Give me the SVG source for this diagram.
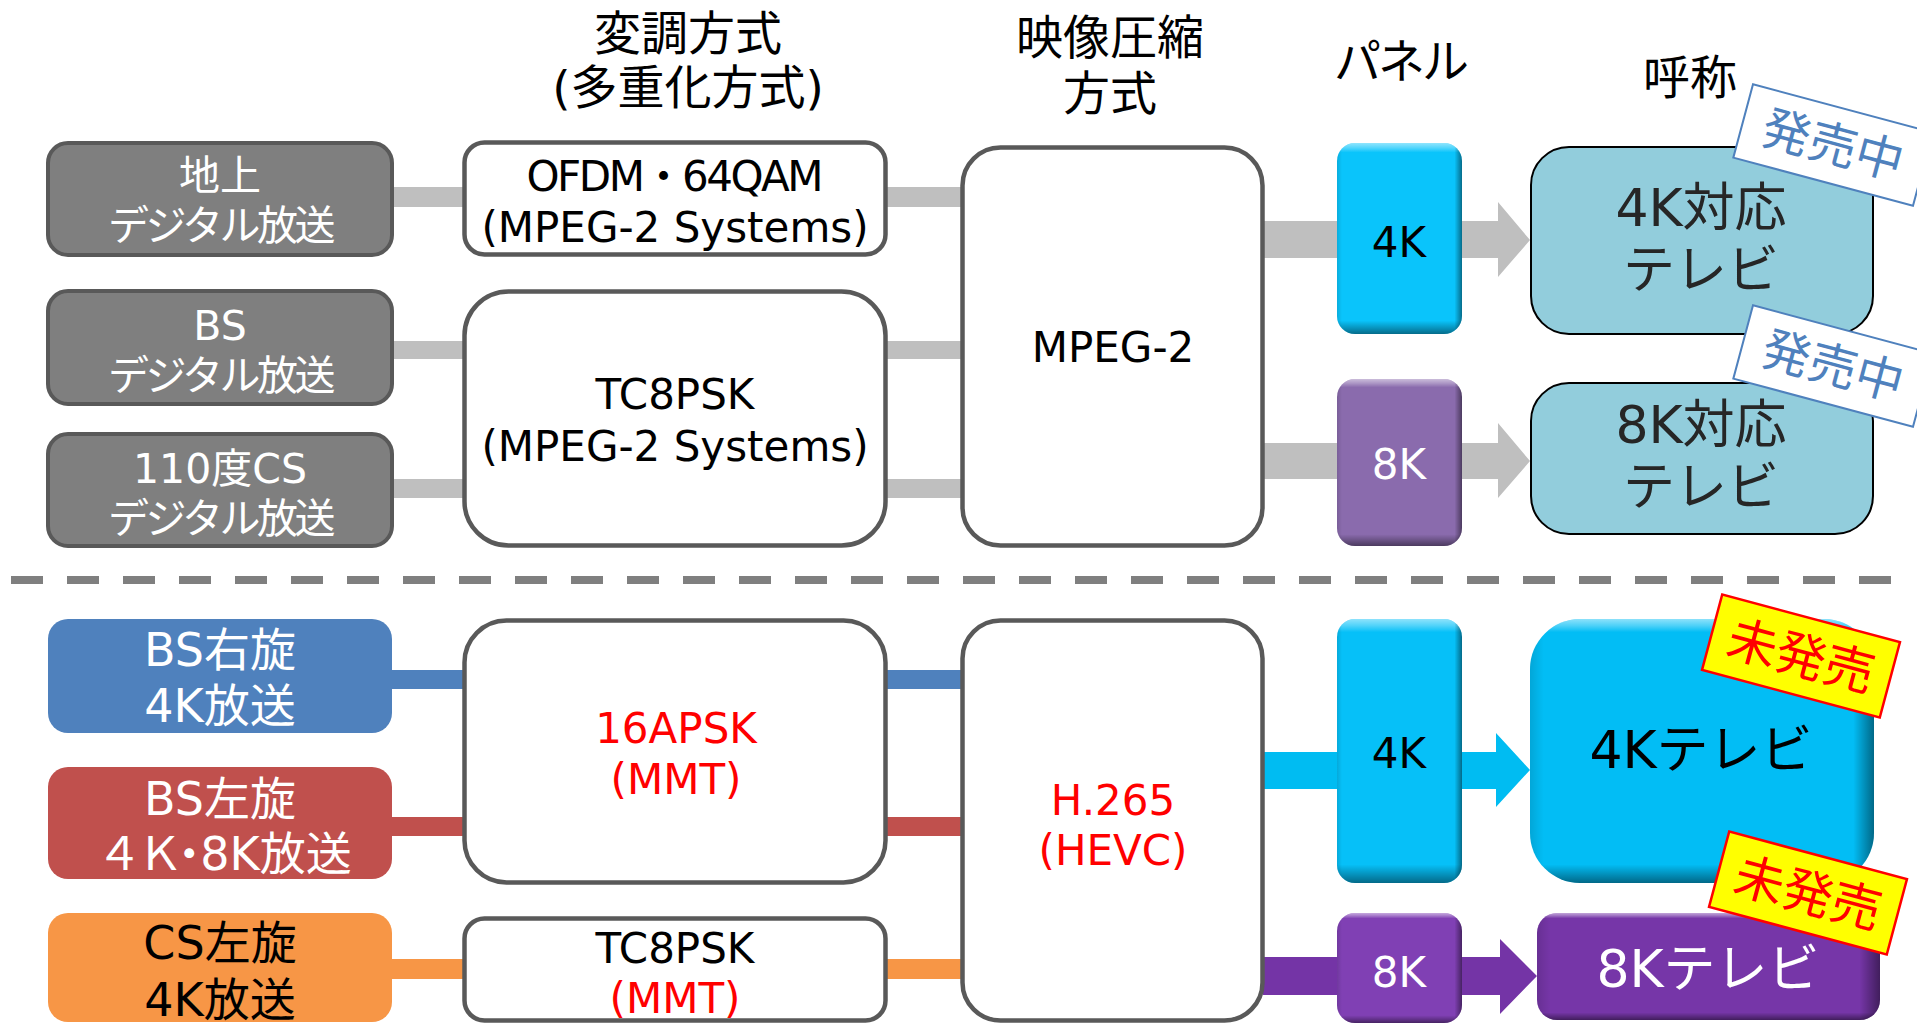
<svg xmlns="http://www.w3.org/2000/svg" width="1917" height="1024" viewBox="0 0 1917 1024">
<defs>
<style>
.t{font-family:"DejaVu Sans","Noto Sans CJK JP",sans-serif;text-anchor:middle}
.hdr{font-size:47px;fill:#000}
.src{font-size:41px;fill:#fff}
.kana{letter-spacing:-3.5px}
.src2{font-size:46px}
.mod{font-size:42px;fill:#000}
.red{fill:#ff0000}
.tv{font-size:52px}
.gbox{fill:#7f7f7f;stroke:#595959;stroke-width:4}
.wbox{fill:#fff;stroke:#595959;stroke-width:4.5}
.tvbox{fill:#92cddc;stroke:#000;stroke-width:2}
.gline{fill:#bfbfbf}
.tag1 rect{fill:#fff;stroke:#4f81bd;stroke-width:2}
.tag1 text{fill:#4f81bd;font-size:48px}
.tag2 rect{fill:#ffff00;stroke:#ff0000;stroke-width:2.5}
.tag2 text{fill:#ff0000;font-size:50px}
</style>
<linearGradient id="bevV" x1="0" y1="0" x2="0" y2="1">
<stop offset="0" stop-color="#fff" stop-opacity="0.55"/>
<stop offset="0.025" stop-color="#fff" stop-opacity="0.3"/>
<stop offset="0.05" stop-color="#fff" stop-opacity="0"/>
<stop offset="0.93" stop-color="#000" stop-opacity="0"/>
<stop offset="1" stop-color="#000" stop-opacity="0.45"/>
</linearGradient>
<linearGradient id="bevH" x1="0" y1="0" x2="1" y2="0">
<stop offset="0" stop-color="#000" stop-opacity="0.12"/>
<stop offset="0.04" stop-color="#000" stop-opacity="0"/>
<stop offset="0.94" stop-color="#000" stop-opacity="0"/>
<stop offset="1" stop-color="#000" stop-opacity="0.45"/>
</linearGradient>
</defs>
<rect width="1917" height="1024" fill="#fff"/>

<g id="headers">
<text class="t hdr" x="688" y="50">変調方式</text>
<text class="t hdr" x="688" y="104">(多重化方式)</text>
<text class="t hdr" x="1110" y="54">映像圧縮</text>
<text class="t hdr" x="1110" y="110">方式</text>
<text class="t hdr" x="1400" y="78" letter-spacing="-3">パネル</text>
<text class="t hdr" x="1690" y="94">呼称</text>
</g>

<g id="separator">
<line x1="11" y1="580" x2="1891" y2="580" stroke="#7f7f7f" stroke-width="8" stroke-dasharray="32 24"/>
</g>

<g id="connectors">
<rect class="gline" x="392" y="187" width="72" height="20"/>
<rect class="gline" x="392" y="341" width="72" height="18"/>
<rect class="gline" x="392" y="479" width="72" height="19"/>
<rect class="gline" x="886" y="187" width="76" height="20"/>
<rect class="gline" x="886" y="341" width="76" height="18"/>
<rect class="gline" x="886" y="479" width="76" height="19"/>
<polygon fill="#bfbfbf" points="1263,221 1498,221 1498,202 1530,240 1498,277 1498,258 1263,258"/>
<polygon fill="#bfbfbf" points="1263,443 1498,443 1498,423 1530,461 1498,498 1498,479 1263,479"/>
<rect fill="#4f81bd" x="392" y="670" width="72" height="19"/>
<rect fill="#4f81bd" x="886" y="670" width="76" height="19"/>
<rect fill="#c0504d" x="392" y="817" width="72" height="19"/>
<rect fill="#c0504d" x="886" y="817" width="76" height="19"/>
<rect fill="#f79646" x="392" y="959" width="72" height="20"/>
<rect fill="#f79646" x="886" y="959" width="76" height="20"/>
<polygon fill="#00bcf2" points="1263,752 1496,752 1496,733 1530,770 1496,807 1496,789 1263,789"/>
<polygon fill="#7434a6" points="1263,957 1500,957 1500,939 1537,976 1500,1014 1500,995 1263,995"/>
</g>

<g id="src-terrestrial">
<rect class="gbox" x="48" y="143" width="344" height="112" rx="20"/>
<text class="t src" x="220" y="190">地上</text>
<text class="t src kana" x="220" y="240">デジタル放送</text>
</g>
<g id="src-bs">
<rect class="gbox" x="48" y="291" width="344" height="113" rx="20"/>
<text class="t src" x="220" y="340">BS</text>
<text class="t src kana" x="220" y="390">デジタル放送</text>
</g>
<g id="src-cs110">
<rect class="gbox" x="48" y="434" width="344" height="112" rx="20"/>
<text class="t src" x="220" y="483">110度CS</text>
<text class="t src kana" x="220" y="533">デジタル放送</text>
</g>

<g id="mod-ofdm">
<rect class="wbox" x="464.5" y="142.5" width="421" height="112" rx="20"/>
<text class="t mod" x="675" y="191" textLength="297" lengthAdjust="spacing">OFDM・64QAM</text>
<text class="t mod" x="675" y="242">(MPEG-2 Systems)</text>
</g>
<g id="mod-tc8psk">
<rect class="wbox" x="464.5" y="291.5" width="421" height="254" rx="44"/>
<text class="t mod" x="675" y="409">TC8PSK</text>
<text class="t mod" x="675" y="461">(MPEG-2 Systems)</text>
</g>
<g id="codec-mpeg2">
<rect class="wbox" x="962.5" y="147.5" width="300" height="398" rx="38"/>
<text class="t mod" x="1113" y="362">MPEG-2</text>
</g>

<g id="panel-4k-top">
<rect x="1337" y="143" width="125" height="191" rx="18" fill="#0ac4fb"/>
<rect x="1337" y="143" width="125" height="191" rx="18" fill="url(#bevV)"/>
<rect x="1337" y="143" width="125" height="191" rx="18" fill="url(#bevH)"/>
<text class="t mod" x="1399" y="257">4K</text>
</g>
<g id="panel-8k-top">
<rect x="1337" y="379" width="125" height="167" rx="18" fill="#8a6bad"/>
<rect x="1337" y="379" width="125" height="167" rx="18" fill="url(#bevV)"/>
<rect x="1337" y="379" width="125" height="167" rx="18" fill="url(#bevH)"/>
<text class="t mod" x="1399" y="479" style="fill:#fff">8K</text>
</g>

<g id="tv-4k-compatible">
<rect class="tvbox" x="1531" y="147" width="342" height="187" rx="38"/>
<text class="t tv" x="1701" y="226" fill="#262626">4K対応</text>
<text class="t tv" x="1701" y="288" fill="#262626">テレビ</text>
</g>
<g id="tv-8k-compatible">
<rect class="tvbox" x="1531" y="383" width="342" height="151" rx="38"/>
<text class="t tv" x="1701" y="443" fill="#262626">8K対応</text>
<text class="t tv" x="1701" y="505" fill="#262626">テレビ</text>
</g>

<g id="tag-onsale-1" class="tag1" transform="translate(1833,145) rotate(15)">
<rect x="-93" y="-38" width="186" height="76"/>
<text class="t" x="0" y="17">発売中</text>
</g>
<g id="tag-onsale-2" class="tag1" transform="translate(1833,366) rotate(15)">
<rect x="-93" y="-38" width="186" height="76"/>
<text class="t" x="0" y="17">発売中</text>
</g>

<g id="src-bs-right">
<rect x="48" y="619" width="344" height="114" rx="20" fill="#4f81bd"/>
<text class="t src2" x="220" y="666" fill="#fff">BS右旋</text>
<text class="t src2" x="220" y="722" fill="#fff">4K放送</text>
</g>
<g id="src-bs-left">
<rect x="48" y="767" width="344" height="112" rx="20" fill="#c0504d"/>
<text class="t src2" x="220" y="815" fill="#fff">BS左旋</text>
<text class="t src2" x="224" y="870" fill="#fff"><tspan letter-spacing="-5">４</tspan><tspan letter-spacing="-17">Ｋ</tspan><tspan letter-spacing="-12">・</tspan>8K放送</text>
</g>
<g id="src-cs-left">
<rect x="48" y="913" width="344" height="109" rx="20" fill="#f79646"/>
<text class="t src2" x="220" y="959" fill="#000">CS左旋</text>
<text class="t src2" x="220" y="1016" fill="#000">4K放送</text>
</g>

<g id="mod-16apsk">
<rect class="wbox" x="464.5" y="620.5" width="421" height="262" rx="42"/>
<text class="t mod red" x="676" y="743">16APSK</text>
<text class="t mod red" x="676" y="794">(MMT)</text>
</g>
<g id="mod-tc8psk-mmt">
<rect class="wbox" x="464.5" y="918.5" width="421" height="102" rx="20"/>
<text class="t mod" x="675" y="963">TC8PSK</text>
<text class="t mod red" x="675" y="1013">(MMT)</text>
</g>
<g id="codec-hevc">
<rect class="wbox" x="962.5" y="620.5" width="300" height="400" rx="38"/>
<text class="t mod red" x="1113" y="815">H.265</text>
<text class="t mod red" x="1113" y="865">(HEVC)</text>
</g>

<g id="panel-4k-bottom">
<rect x="1337" y="619" width="125" height="264" rx="18" fill="#06c0f8"/>
<rect x="1337" y="619" width="125" height="264" rx="18" fill="url(#bevV)"/>
<rect x="1337" y="619" width="125" height="264" rx="18" fill="url(#bevH)"/>
<text class="t mod" x="1399" y="768">4K</text>
</g>
<g id="panel-8k-bottom">
<rect x="1337" y="913" width="125" height="110" rx="18" fill="#8040b4"/>
<rect x="1337" y="913" width="125" height="110" rx="18" fill="url(#bevV)"/>
<rect x="1337" y="913" width="125" height="110" rx="18" fill="url(#bevH)"/>
<text class="t mod" x="1399" y="987" style="fill:#fff">8K</text>
</g>
<g id="tv-4k">
<rect x="1530" y="619" width="344" height="264" rx="50" fill="#02bdf5"/>
<rect x="1530" y="619" width="344" height="264" rx="50" fill="url(#bevV)"/>
<rect x="1530" y="619" width="344" height="264" rx="50" fill="url(#bevH)"/>
<text class="t tv" x="1701" y="768" fill="#000">4Kテレビ</text>
</g>
<g id="tv-8k">
<rect x="1537" y="913" width="343" height="107" rx="20" fill="#7636a8"/>
<rect x="1537" y="913" width="343" height="107" rx="20" fill="url(#bevV)"/>
<rect x="1537" y="913" width="343" height="107" rx="20" fill="url(#bevH)"/>
<text class="t tv" x="1708" y="987" fill="#fff">8Kテレビ</text>
</g>

<g id="tag-unreleased-1" class="tag2" transform="translate(1801,656) rotate(15)">
<rect x="-92" y="-39" width="184" height="78"/>
<text class="t" x="0" y="18">未発売</text>
</g>
<g id="tag-unreleased-2" class="tag2" transform="translate(1808,893) rotate(15)">
<rect x="-92" y="-39" width="184" height="78"/>
<text class="t" x="0" y="18">未発売</text>
</g>
</svg>
